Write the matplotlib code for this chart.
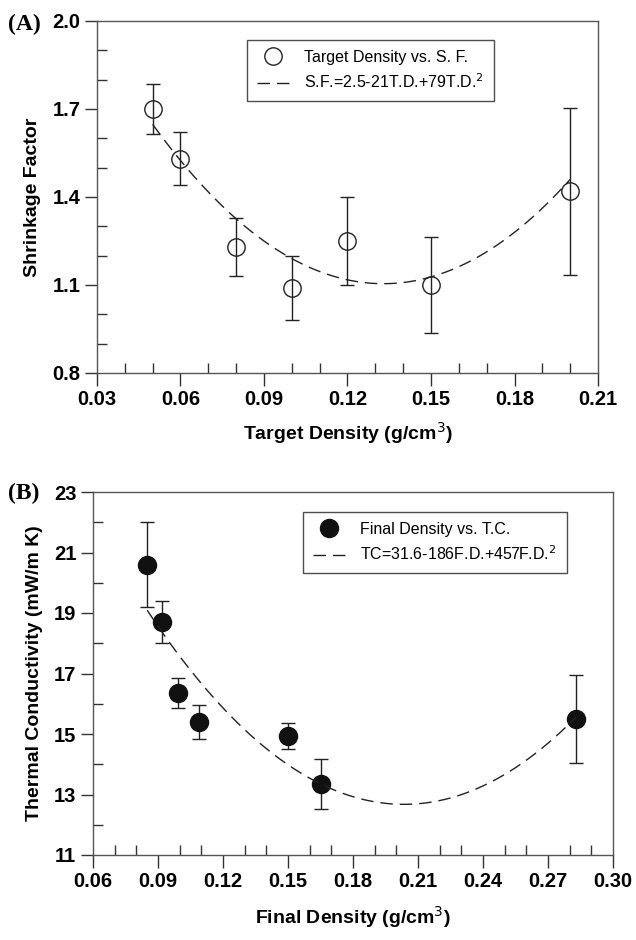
import matplotlib
matplotlib.use("Agg")
import matplotlib.pyplot as plt
import numpy as np
from matplotlib.ticker import MultipleLocator

# Panel A data
td = [0.05, 0.06, 0.08, 0.10, 0.12, 0.15, 0.20]
sf = [1.70, 1.53, 1.23, 1.09, 1.25, 1.10, 1.42]
sf_err = [0.085, 0.09, 0.10, 0.11, 0.15, 0.165, 0.285]
sf_coef = [2.5, -21.0, 79.0]  # S.F. = a + b*TD + c*TD^2
a_xticks = [0.03, 0.06, 0.09, 0.12, 0.15, 0.18, 0.21]
a_xlabels = ['0.03', '0.06', '0.09', '0.12', '0.15', '0.18', '0.21']
a_yticks = [0.8, 1.1, 1.4, 1.7, 2.0]
a_ylabels = ['0.8', '1.1', '1.4', '1.7', '2.0']

# Panel B data
fd = [0.085, 0.092, 0.099, 0.109, 0.150, 0.165, 0.283]
tc = [20.6, 18.7, 16.35, 15.4, 14.93, 13.35, 15.5]
tc_err = [1.4, 0.7, 0.5, 0.55, 0.42, 0.82, 1.45]
tc_coef = [31.6, -186.0, 457.0]
b_xticks = [0.06, 0.09, 0.12, 0.15, 0.18, 0.21, 0.24, 0.27, 0.30]
b_xlabels = ['0.06', '0.09', '0.12', '0.15', '0.18', '0.21', '0.24', '0.27', '0.30']
b_yticks = [11, 13, 15, 17, 19, 21, 23]
b_ylabels = ['11', '13', '15', '17', '19', '21', '23']

plt.rcParams['font.family'] = ['Liberation Sans', 'DejaVu Sans']

fig = plt.figure(figsize=(6.36, 9.40), dpi=100)
W, H = 636, 940

def add_ax(l, t, r, b):
    return fig.add_axes([l / W, 1 - b / H, (r - l) / W, (b - t) / H])

axA = add_ax(97, 21, 598, 373)
axB = add_ax(93, 492, 613, 855)

spine_col = '#555555'

def style(ax, xt, xl, yt, yl, xmin, ymin):
    for s in ax.spines.values():
        s.set_color(spine_col)
        s.set_linewidth(1.0)
    ax.set_xticks(xt)
    ax.set_xticklabels(xl)
    ax.set_yticks(yt)
    ax.set_yticklabels(yl)
    ax.xaxis.set_minor_locator(MultipleLocator(xmin))
    ax.yaxis.set_minor_locator(MultipleLocator(ymin))
    ax.tick_params(which='major', direction='out', length=9, width=1.0, color='#333333',
                   labelsize=14.5, pad=3)
    ax.tick_params(which='minor', direction='in', length=7, width=1.0, color='#333333')
    for lab in ax.get_xticklabels() + ax.get_yticklabels():
        lab.set_fontweight('bold')

dash = (0, (9, 5))

# Panel A
xa = np.linspace(min(td), max(td), 200)
ya = sf_coef[0] + sf_coef[1] * xa + sf_coef[2] * xa ** 2
axA.errorbar(td, sf, yerr=sf_err, fmt='none', ecolor='#222222', elinewidth=1.0,
             capsize=5, capthick=1.0, zorder=2)
axA.plot(td, sf, 'o', ms=12.5, mfc='none', mec='#222222', mew=1.0, zorder=3,
         label='Target Density vs. S. F.')
axA.plot(xa, ya, color='#222222', lw=1.0, linestyle=dash, zorder=4,
         label='S.F.=2.5-21T.D.+79T.D.$^2$')
axA.set_xlim(0.03, 0.21)
axA.set_ylim(0.8, 2.0)
style(axA, a_xticks, a_xlabels, a_yticks, a_ylabels, 0.01, 0.1)
axA.set_xlabel('Target Density (g/cm$^3$)', fontsize=14, fontweight='bold', labelpad=8)
axA.set_ylabel('Shrinkage Factor', fontsize=14, fontweight='bold', labelpad=8)
legA = axA.legend(loc='upper left', bbox_to_anchor=((247 - 97) / 501, 1 - (40 - 21) / 352),
                  borderaxespad=0, fontsize=11.5, frameon=True, fancybox=False,
                  edgecolor='#222222', handlelength=2.0, handletextpad=1.0,
                  borderpad=0.6, labelspacing=0.5)
legA.get_frame().set_linewidth(1.0)
fig.text(8 / W, 1 - 24 / H, '(A)', fontsize=17, fontweight='bold',
         family=['Liberation Serif'], ha='left', va='center')

# Panel B
xb = np.linspace(min(fd), max(fd), 200)
yb = tc_coef[0] + tc_coef[1] * xb + tc_coef[2] * xb ** 2
axB.errorbar(fd, tc, yerr=tc_err, fmt='none', ecolor='#222222', elinewidth=1.0,
             capsize=5, capthick=1.0, zorder=2)
axB.plot(fd, tc, 'o', ms=13, mfc='#111111', mec='#111111', zorder=3,
         label='Final Density vs. T.C.')
axB.plot(xb, yb, color='#222222', lw=1.0, linestyle=dash, zorder=4,
         label='TC=31.6-186F.D.+457F.D.$^2$')
axB.set_xlim(0.06, 0.30)
axB.set_ylim(11, 23)
style(axB, b_xticks, b_xlabels, b_yticks, b_ylabels, 0.01, 1)
axB.set_xlabel('Final Density (g/cm$^3$)', fontsize=14, fontweight='bold', labelpad=10)
axB.set_ylabel('Thermal Conductivity (mW/m K)', fontsize=14, fontweight='bold', labelpad=8)
legB = axB.legend(loc='upper left', bbox_to_anchor=((303 - 93) / 520, 1 - (512 - 492) / 363),
                  borderaxespad=0, fontsize=11.5, frameon=True, fancybox=False,
                  edgecolor='#222222', handlelength=2.0, handletextpad=1.0,
                  borderpad=0.6, labelspacing=0.5)
legB.get_frame().set_linewidth(1.0)
fig.text(8 / W, 1 - 493 / H, '(B)', fontsize=17, fontweight='bold',
         family=['Liberation Serif'], ha='left', va='center')

fig.savefig('out.png', dpi=100)
